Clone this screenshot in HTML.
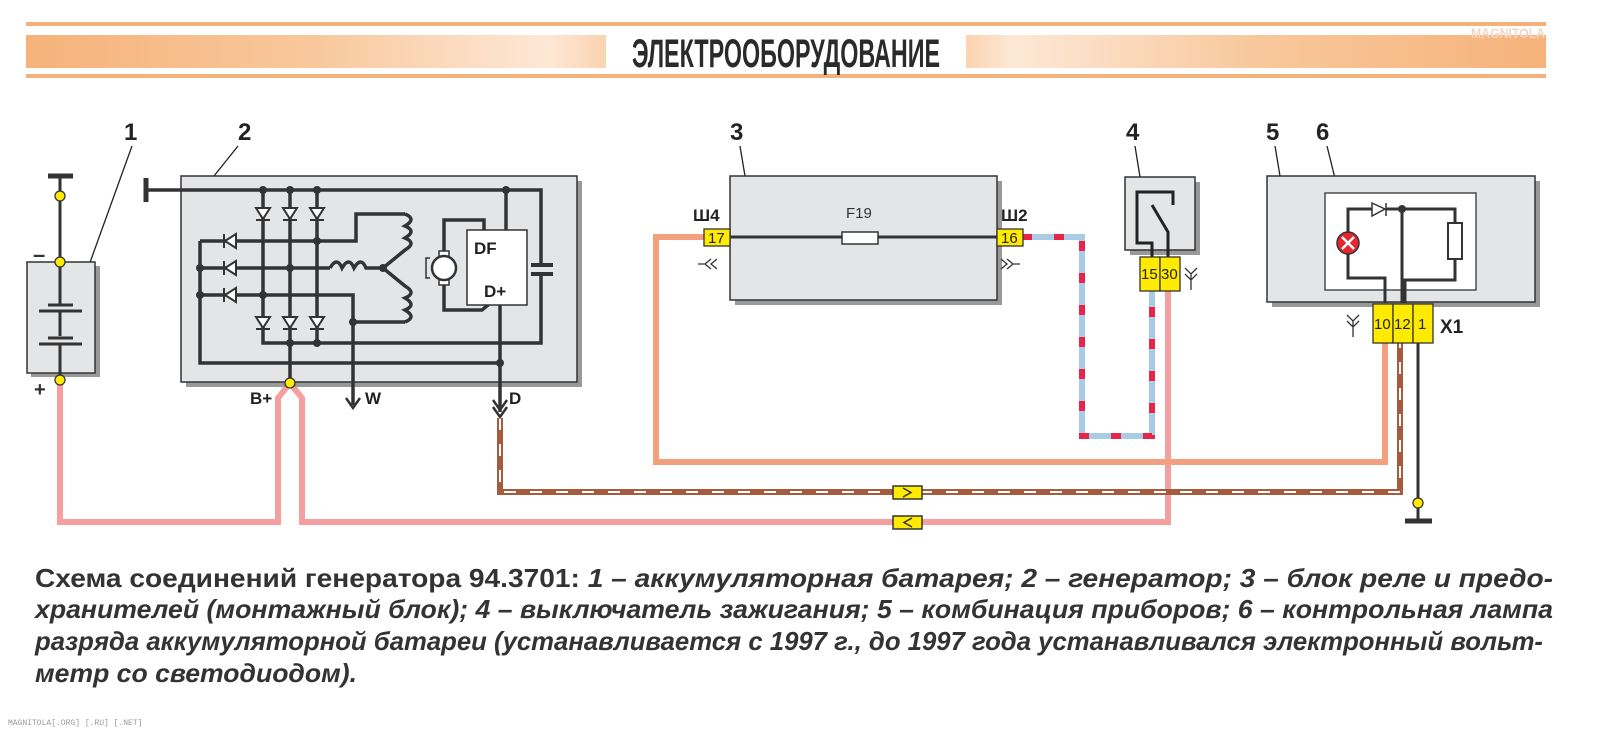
<!DOCTYPE html>
<html><head><meta charset="utf-8"><style>
html,body{margin:0;padding:0;background:#fff;}
svg{display:block;}
</style></head><body>
<svg width="1600" height="749" viewBox="0 0 1600 749" xmlns="http://www.w3.org/2000/svg" font-family="Liberation Sans, sans-serif">
<defs>
<linearGradient id="gL" x1="0" x2="1" y1="0" y2="0"><stop offset="0" stop-color="#f6b27a"/><stop offset="0.5" stop-color="#f8c89c"/><stop offset="0.9" stop-color="#fde8d6"/><stop offset="1" stop-color="#fbd3b0"/></linearGradient>
<linearGradient id="gR" x1="0" x2="1" y1="0" y2="0"><stop offset="0" stop-color="#fbd3b0"/><stop offset="0.08" stop-color="#fde8d6"/><stop offset="0.5" stop-color="#f8c89c"/><stop offset="1" stop-color="#f6b27a"/></linearGradient>
</defs>
<!-- header -->
<rect x="26" y="22" width="1520" height="4" fill="#f3b27a"/>
<rect x="26" y="74" width="1520" height="4" fill="#f3b27a"/>
<rect x="26" y="35" width="580" height="33" fill="url(#gL)"/>
<rect x="966" y="35" width="580" height="33" fill="url(#gR)"/>
<g transform="translate(786 67) scale(1 1.3)">
<text x="0" y="0" font-size="31" font-weight="bold" fill="#2a2a2a" text-anchor="middle" textLength="308" lengthAdjust="spacingAndGlyphs">ЭЛЕКТРООБОРУДОВАНИЕ</text>
</g>
<text x="1508" y="38" font-size="14" font-weight="bold" fill="#f2d6c4" text-anchor="middle" textLength="74" lengthAdjust="spacingAndGlyphs">MAGNITOLA</text>

<g font-weight="bold" font-size="24" fill="#222">
<text x="124" y="140">1</text><text x="238" y="140">2</text><text x="730" y="140">3</text><text x="1126" y="140">4</text><text x="1266" y="140">5</text><text x="1316" y="140">6</text>
</g>
<g stroke="#222" stroke-width="1.3" fill="none">
<path d="M132 146 L88 268"/><path d="M238 146 L214 176"/><path d="M740 146 L745 176"/><path d="M1135 146 L1140 177"/><path d="M1275 146 L1280 176"/><path d="M1327 146 L1349 235"/>
</g>

<!-- wires -->
<g fill="none" stroke-width="6" stroke-linejoin="miter">
<path d="M60 380 V522 H278 V398 L290 383 L302 398 V522 H1168 V290" stroke="#f4a0a0"/>
<path d="M656 237 H704 M656 234 V462 H1385 V343" stroke="#f2a07e"/>
<path d="M1022 237 H1082 V436 H1152 V290" stroke="#a8cbe6"/>
<path d="M1022 237 H1082 V436 H1152 V290" stroke="#e8244a" stroke-dasharray="10 22"/>
<path d="M500 418 V492 H1400 V343" stroke="#a65a3e"/>
<path d="M500 418 V492 H1400 V343" stroke="#fff" stroke-width="2" stroke-dasharray="12 14"/>
</g>
<path d="M656 234 V465" stroke="#f2a07e" stroke-width="6"/>
<g stroke="#333" stroke-width="1.5">
<rect x="893" y="486" width="29" height="13" fill="#ffeb00"/><path d="M903 488 L911 492.5 L903 497" fill="none"/>
<rect x="893" y="516" width="29" height="13" fill="#ffeb00"/><path d="M912 518 L904 522.5 L912 527" fill="none"/>
</g>
<path d="M1418 343 V520" stroke="#333" stroke-width="3"/>
<path d="M1405 521 H1432" stroke="#333" stroke-width="5"/>
<circle cx="1418" cy="503" r="5" fill="#ffeb00" stroke="#333" stroke-width="1.3"/>

<!-- battery -->
<rect x="31" y="266" width="69" height="111" fill="#999"/>
<rect x="27" y="262" width="68" height="111" fill="#e4e5e7" stroke="#333" stroke-width="1.5"/>
<g stroke="#333" stroke-width="3">
<path d="M60 178 V306 M60 312 V336 M60 344 V380"/>
<path d="M48 176 H73" stroke-width="5"/>
<path d="M48 305 H73 M39 311 H82 M48 338 H73 M39 344 H82"/>
<path d="M60 318 V324 M60 328 V334" stroke-width="1.5"/>
</g>
<g fill="#ffeb00" stroke="#333" stroke-width="1.3"><circle cx="60" cy="196" r="5"/><circle cx="60" cy="262" r="5"/><circle cx="60" cy="380" r="5"/></g>
<text x="33" y="262" font-size="22" font-weight="bold" fill="#333">–</text>
<text x="34" y="396" font-size="20" font-weight="bold" fill="#333">+</text>

<!-- generator -->
<rect x="186" y="181" width="396" height="206" fill="#999"/>
<rect x="181" y="176" width="396" height="206" fill="#e4e5e7" stroke="#333" stroke-width="1.5"/>
<g stroke="#333" stroke-width="3.5" fill="none">
<path d="M146 178 V202" stroke-width="5"/>
<path d="M146 190 H541 V265 M541 274 V343 H263 V190 M290 190 V383 M317 190 V343"/>
<path d="M200 241 V363 H500 M200 241 H356 V214 H405"/>
<path d="M200 268 H330 M200 295 H353 V322 H405"/>
<path d="M330 268 q7 -12 12 0 q7 -12 12 0 q7 -12 12 0 L383 268"/>
<path d="M405 214 q12 5 0 12 q12 5 0 12 q12 5 0 12 L383 268"/>
<path d="M405 322 q12 -5 0 -12 q12 -5 0 -12 q12 -5 0 -12 L383 268"/>
<path d="M353 322 V405"/>
<path d="M346 398 L353 408 L360 398" stroke-width="2.5"/>
<path d="M506 190 V230"/>
<path d="M500 305 V412"/>
<path d="M493 400 L500 410 L507 400 M493 407 L500 417 L507 407" stroke-width="2.5"/>
<path d="M444 254 V220 H484 V230 M444 282 V310 H482 L500 295"/>
<path d="M531 265 H553 M531 274 H553" stroke-width="4"/>
</g>
<g fill="#fff" stroke="#333" stroke-width="2">
<path d="M256 208 H270 L263 219 Z M283 208 H297 L290 219 Z M310 208 H324 L317 219 Z"/>
<path d="M256 317 H270 L263 328 Z M283 317 H297 L290 328 Z M310 317 H324 L317 328 Z"/>
<path d="M256 220 H270 M283 220 H297 M310 220 H324 M256 329 H270 M283 329 H297 M310 329 H324"/>
<path d="M236 234 V248 L225 241 Z M236 261 V275 L225 268 Z M236 288 V302 L225 295 Z"/>
<path d="M224 234 V248 M224 261 V275 M224 288 V302"/>
</g>
<g fill="#333">
<circle cx="263" cy="190" r="4"/><circle cx="290" cy="190" r="4"/><circle cx="317" cy="190" r="4"/><circle cx="506" cy="190" r="4"/>
<circle cx="317" cy="241" r="4"/><circle cx="200" cy="268" r="4"/><circle cx="290" cy="268" r="4"/><circle cx="200" cy="295" r="4"/><circle cx="263" cy="295" r="4"/>
<circle cx="353" cy="322" r="4"/><circle cx="290" cy="343" r="4"/><circle cx="317" cy="343" r="4"/><circle cx="500" cy="363" r="4"/><circle cx="383" cy="268" r="4"/>
</g>
<rect x="439" y="251" width="10" height="7" fill="#fff" stroke="#333" stroke-width="1.5"/>
<rect x="439" y="278" width="10" height="7" fill="#fff" stroke="#333" stroke-width="1.5"/>
<circle cx="444" cy="268" r="12" fill="#fff" stroke="#333" stroke-width="2.5"/>
<path d="M430 258 H426 V278 H430" fill="none" stroke="#333" stroke-width="1.5"/>
<rect x="467" y="230" width="60" height="75" fill="#fff" stroke="#333" stroke-width="1.5"/>
<text x="474" y="254" font-size="17" font-weight="bold" fill="#222">DF</text>
<text x="484" y="297" font-size="17" font-weight="bold" fill="#222">D+</text>
<circle cx="290" cy="383" r="5" fill="#ffeb00" stroke="#333" stroke-width="1.3"/>
<g font-size="17" font-weight="bold" fill="#222"><text x="250" y="404">B+</text><text x="365" y="404">W</text><text x="509" y="404">D</text></g>

<!-- block 3 -->
<rect x="735" y="181" width="267" height="124" fill="#999"/>
<rect x="730" y="176" width="267" height="124" fill="#e4e5e7" stroke="#333" stroke-width="1.5"/>
<path d="M730 237 H997" stroke="#333" stroke-width="3"/>
<rect x="842" y="232" width="36" height="12" fill="#fff" stroke="#333" stroke-width="1.5"/>
<text x="846" y="218" font-size="15" fill="#333">F19</text>
<text x="693" y="221" font-size="17" font-weight="bold" fill="#222">Ш4</text>
<text x="1001" y="221" font-size="17" font-weight="bold" fill="#222">Ш2</text>
<g stroke="#333" stroke-width="1.3"><rect x="704" y="229" width="26" height="17" fill="#ffeb00"/><rect x="997" y="229" width="26" height="17" fill="#ffeb00"/></g>
<text x="708" y="243" font-size="15" fill="#222">17</text><text x="1001" y="243" font-size="15" fill="#222">16</text>
<g stroke="#333" stroke-width="1.3" fill="none"><path d="M711 259 L705 264 L711 269 M717 259 L711 264 L717 269 M698 264 H705"/><path d="M1001 259 L1007 264 L1001 269 M1007 259 L1013 264 L1007 269 M1013 264 H1020"/></g>

<!-- block 4 -->
<rect x="1130" y="182" width="70" height="73" fill="#999"/>
<rect x="1125" y="177" width="70" height="73" fill="#e4e5e7" stroke="#333" stroke-width="1.5"/>
<path d="M1152 258 V243 H1137 V192 H1173 V205 M1168 258 V232 L1152 205" fill="none" stroke="#222" stroke-width="3"/>
<g stroke="#333" stroke-width="1.3"><rect x="1140" y="257" width="20" height="34" fill="#ffeb00"/><rect x="1160" y="257" width="20" height="34" fill="#ffeb00"/></g>
<text x="1141" y="279" font-size="15" fill="#222">15</text><text x="1161" y="279" font-size="15" fill="#222">30</text>
<path d="M1185 268 L1191 274 L1197 268 M1185 274 L1191 280 L1197 274 M1191 274 V290" fill="none" stroke="#333" stroke-width="1.3"/>

<!-- block 5 -->
<rect x="1272" y="181" width="268" height="126" fill="#999"/>
<rect x="1267" y="176" width="268" height="126" fill="#e4e5e7" stroke="#333" stroke-width="1.5"/>
<rect x="1325" y="193" width="151" height="97" fill="#fff" stroke="#333" stroke-width="1.3"/>
<g stroke="#333" stroke-width="3" fill="none">
<path d="M1348 236 V209 H1372 M1386 209 H1455 V230 M1455 258 V280 H1405 V303"/>
<path d="M1348 250 V278 H1385 V303 M1402 209 V303"/>
</g>
<path d="M1372 203 V216 L1385 209 Z M1386 203 V216" fill="#fff" stroke="#333" stroke-width="1.5"/>
<rect x="1448" y="223" width="14" height="36" fill="#fff" stroke="#333" stroke-width="2"/>
<circle cx="1402" cy="209" r="4" fill="#333"/>
<circle cx="1348" cy="243" r="11" fill="#e8242e" stroke="#333" stroke-width="1.5"/>
<path d="M1342 237 L1354 249 M1354 237 L1342 249" stroke="#fff" stroke-width="2.5"/>
<g stroke="#333" stroke-width="1.3"><rect x="1373" y="304" width="20" height="39" fill="#ffeb00"/><rect x="1393" y="304" width="20" height="39" fill="#ffeb00"/><rect x="1413" y="304" width="20" height="39" fill="#ffeb00"/></g>
<text x="1374" y="329" font-size="15" fill="#222">10</text><text x="1394" y="329" font-size="15" fill="#222">12</text><text x="1418" y="329" font-size="15" fill="#222">1</text>
<text x="1440" y="333" font-size="19" font-weight="bold" fill="#222">X1</text>
<path d="M1347 315 L1353 321 L1359 315 M1347 321 L1353 327 L1359 321 M1353 321 V337" fill="none" stroke="#333" stroke-width="1.3"/>

<!-- caption -->
<g font-size="26" font-weight="bold" fill="#333">
<text x="35" y="587" textLength="1518" lengthAdjust="spacingAndGlyphs">Схема соединений генератора 94.3701: <tspan font-style="italic">1 – аккумуляторная батарея; 2 – генератор; 3 – блок реле и предо-</tspan></text>
<text x="35" y="618" font-style="italic" textLength="1518" lengthAdjust="spacingAndGlyphs">хранителей (монтажный блок); 4 – выключатель зажигания; 5 – комбинация приборов; 6 – контрольная лампа</text>
<text x="35" y="650" font-style="italic" textLength="1508" lengthAdjust="spacingAndGlyphs">разряда аккумуляторной батареи (устанавливается с 1997 г., до 1997 года устанавливался электронный вольт-</text>
<text x="35" y="682" font-style="italic" textLength="322" lengthAdjust="spacingAndGlyphs">метр со светодиодом).</text>
</g>
<text x="8" y="725" font-size="8" fill="#999" font-family="Liberation Mono, monospace">MAGNITOLA[.ORG] [.RU] [.NET]</text>
</svg>
</body></html>
